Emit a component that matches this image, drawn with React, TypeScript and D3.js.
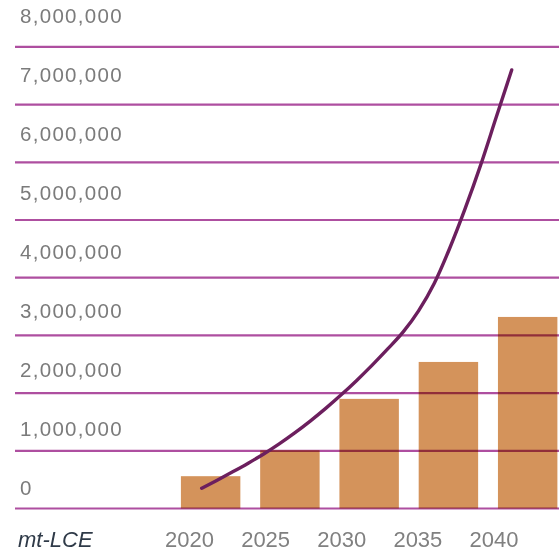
import React from "react";
import * as d3 from "d3";

const barYears = ["2020", "2025", "2030", "2035", "2040"];
const barValues = [560000, 1010000, 1900000, 2540000, 3320000];

const lineYears = [2020, 2021, 2022, 2023, 2024, 2025, 2026, 2027, 2028, 2029, 2030, 2031, 2032, 2033, 2034, 2035, 2036, 2037, 2038, 2039, 2040];
const lineValues = [350000, 490000, 635000, 785000, 945000, 1120000, 1310000, 1515000, 1735000, 1970000, 2220000, 2485000, 2765000, 3060000, 3430000, 3900000, 4510000, 5200000, 5955000, 6780000, 7600000];

const tickValues = [0, 1000000, 2000000, 3000000, 4000000, 5000000, 6000000, 7000000, 8000000];
const unitLabel = "mt-LCE";

const W = 559;
const H = 552;

export default function App() {
  const y = d3.scaleLinear().domain([0, 8000000]).range([508.5, 46.9]);
  const yLabel = d3.scaleLinear().domain([0, 8000000]).range([495, 23]);
  const xBand = d3
    .scaleBand<string>()
    .domain(barYears)
    .range([171, 567.3])
    .paddingInner(0.25)
    .paddingOuter(0.125);
  const xLabel = d3.scalePoint<string>().domain(barYears).range([189.5, 494]);
  const xLine = d3.scaleLinear().domain([2020, 2040]).range([201.7, 511.7]);
  const fmt = d3.format(",");

  const linePath = d3
    .line<number>()
    .x((_, i) => xLine(lineYears[i]))
    .y((d) => y(d))
    .curve(d3.curveMonotoneX)(lineValues) as string;

  return (
    <svg
      width={W}
      height={H}
      style={{ position: "absolute", left: 0, top: 0, background: "#fff" }}
    >
      <rect x={0} y={0} width={W} height={H} fill="#fff" />
      <g>
        {barYears.map((yr, i) => (
          <rect
            key={yr}
            x={xBand(yr)}
            y={y(barValues[i])}
            width={xBand.bandwidth()}
            height={y(0) - y(barValues[i])}
            fill="#d4935b"
          />
        ))}
      </g>
      <g style={{ mixBlendMode: "multiply" }}>
        {tickValues.map((v) => (
          <line
            key={v}
            x1={15}
            x2={W}
            y1={y(v)}
            y2={y(v)}
            stroke="#ae4fa0"
            strokeWidth={2.2}
          />
        ))}
      </g>
      <g
        fontFamily="'Liberation Sans', Arial, sans-serif"
        fontSize={20.5}
        fill="#7b7b7b"
        letterSpacing={1.3}
      >
        {tickValues.map((v) => (
          <text key={v} x={20} y={yLabel(v)}>
            {fmt(v)}
          </text>
        ))}
      </g>
      <path
        d={linePath}
        fill="none"
        stroke="#6c1f5e"
        strokeWidth={3.4}
        strokeLinecap="round"
        strokeLinejoin="round"
      />
      <g
        fontFamily="'Liberation Sans', Arial, sans-serif"
        fontSize={22}
        fill="#808080"
        textAnchor="middle"
      >
        {barYears.map((yr) => (
          <text key={yr} x={xLabel(yr)} y={546.5}>
            {yr}
          </text>
        ))}
      </g>
      <text
        x={18}
        y={546.5}
        fontFamily="'Liberation Sans Narrow', 'Arial Narrow', 'Liberation Sans', sans-serif"
        fontStyle="italic"
        fontSize={22}
        fill="#2f3a48"
      >
        {unitLabel}
      </text>
    </svg>
  );
}
